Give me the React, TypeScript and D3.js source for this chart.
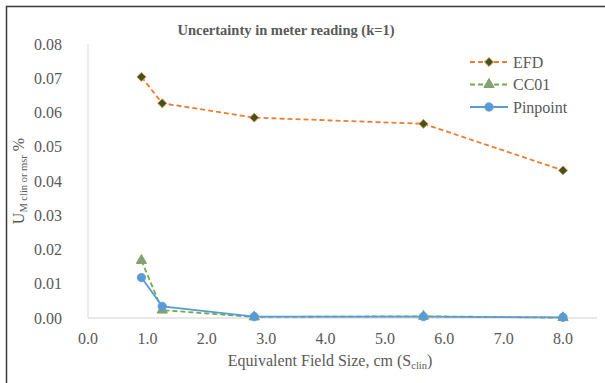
import * as d3 from "d3";
import { useRef, useEffect } from "react";

// field sizes (cm) and the three detector series
const fieldSizes = [0.9, 1.25, 2.8, 5.65, 8.0];
const efd = [0.0704, 0.0627, 0.0585, 0.0567, 0.0431];
const cc01 = [0.0168, 0.0023, 0.0003, 0.0005, 0.0001];
const pinpoint = [0.0118, 0.0034, 0.0004, 0.0004, 0.0002];
const xTicks = [0, 1, 2, 3, 4, 5, 6, 7, 8];
const yTicks = [0, 0.01, 0.02, 0.03, 0.04, 0.05, 0.06, 0.07, 0.08];

const series = [
  { name: "EFD", values: efd, stroke: "#ED7D31", dash: "5,3", marker: "diamond", fill: "#375623" },
  { name: "CC01", values: cc01, stroke: "#70AD47", dash: "5,3", marker: "triangle", fill: "#8C9A8C" },
  { name: "Pinpoint", values: pinpoint, stroke: "#5B9BD5", dash: null, marker: "circle", fill: "#5B9BD5" },
];

const font = "Liberation Serif, serif";
const textColor = "#595959";

export default function App() {
  const svgRef = useRef<SVGSVGElement>(null);

  useEffect(() => {
    const svg = d3.select(svgRef.current);
    svg.selectAll("*").remove();

    // plot area edges
    const left = 88, right = 563, top = 44, bottom = 318;

    const x = d3.scaleLinear().domain([0, 8]).range([left, right]);
    const y = d3.scaleLinear().domain([0, 0.08]).range([bottom, top]);

    // frame (left and top edges only)
    svg.append("path").attr("d", "M6.5,383 L6.5,6.5 L605,6.5")
      .attr("fill", "none").attr("stroke", "#3a3a3a").attr("stroke-width", 1.5);

    // axis lines
    svg.append("line").attr("x1", left).attr("x2", 597).attr("y1", bottom).attr("y2", bottom)
      .attr("stroke", "#d0d0d0").attr("stroke-width", 1);
    svg.append("line").attr("x1", left).attr("x2", left).attr("y1", top).attr("y2", bottom)
      .attr("stroke", "#d9d9d9").attr("stroke-width", 1);

    // y tick labels
    svg.append("g").selectAll("text").data(yTicks).join("text")
      .attr("x", 62).attr("y", d => y(d)).attr("dy", "0.35em")
      .attr("text-anchor", "end").attr("fill", textColor)
      .attr("font-family", font).attr("font-size", 16)
      .text(d => d3.format(".2f")(d));

    // x tick labels
    svg.append("g").selectAll("text").data(xTicks).join("text")
      .attr("x", d => x(d)).attr("y", 344)
      .attr("text-anchor", "middle").attr("fill", textColor)
      .attr("font-family", font).attr("font-size", 16)
      .text(d => d3.format(".1f")(d));

    // title
    svg.append("text").attr("x", 286).attr("y", 35).attr("text-anchor", "middle")
      .attr("fill", textColor).attr("font-family", font).attr("font-size", 14.5)
      .attr("font-weight", "bold").text("Uncertainty in meter reading (k=1)");

    // x axis title
    const xt = svg.append("text").attr("x", 330).attr("y", 366).attr("text-anchor", "middle")
      .attr("fill", textColor).attr("font-family", font).attr("font-size", 16);
    xt.append("tspan").text("Equivalent Field Size, cm (S");
    xt.append("tspan").attr("dy", 3).attr("font-size", 10.5).text("clin");
    xt.append("tspan").attr("dy", -3).text(")");

    // y axis title
    const yt = svg.append("text").attr("transform", `translate(24,${(top + bottom) / 2}) rotate(-90)`)
      .attr("text-anchor", "middle").attr("fill", textColor)
      .attr("font-family", font).attr("font-size", 16);
    yt.append("tspan").text("U");
    yt.append("tspan").attr("dy", 3).attr("font-size", 10.5).text("M clin or msr");
    yt.append("tspan").attr("dy", -3).text(" %");

    const drawMarker = (g: any, type: string, cx: number, cy: number, fill: string, stroke: string) => {
      if (type === "diamond") {
        g.append("path").attr("d", d3.symbol(d3.symbolDiamond2, 50)())
          .attr("transform", `translate(${cx},${cy})`)
          .attr("fill", fill).attr("stroke", stroke).attr("stroke-width", 1);
      } else if (type === "triangle") {
        g.append("path").attr("d", d3.symbol(d3.symbolTriangle, 45)())
          .attr("transform", `translate(${cx},${cy})`)
          .attr("fill", fill).attr("stroke", stroke).attr("stroke-width", 1);
      } else {
        g.append("circle").attr("cx", cx).attr("cy", cy).attr("r", 4.2)
          .attr("fill", fill).attr("stroke", stroke).attr("stroke-width", 0.8);
      }
    };

    const line = d3.line<number>().x((_, i) => x(fieldSizes[i])).y(d => y(d));

    series.forEach(s => {
      const g = svg.append("g");
      g.append("path").datum(s.values).attr("d", line).attr("fill", "none")
        .attr("stroke", s.stroke).attr("stroke-width", 1.8)
        .attr("stroke-dasharray", s.dash ?? null);
      s.values.forEach((v, i) => drawMarker(g, s.marker, x(fieldSizes[i]), y(v), s.fill, s.stroke));
    });

    // legend
    const lg = svg.append("g");
    series.forEach((s, i) => {
      const ly = 62 + i * 22.5;
      lg.append("line").attr("x1", 470).attr("x2", 508).attr("y1", ly).attr("y2", ly)
        .attr("stroke", s.stroke).attr("stroke-width", 1.8)
        .attr("stroke-dasharray", s.dash ?? null);
      drawMarker(lg, s.marker, 489, ly, s.fill, s.stroke);
      lg.append("text").attr("x", 513).attr("y", ly).attr("dy", "0.35em").attr("fill", textColor)
        .attr("font-family", font).attr("font-size", 16).text(s.name);
    });
  }, []);

  return (
    <svg ref={svgRef} width={605} height={383}
      style={{ position: "absolute", left: 0, top: 0, background: "#fff" }} />
  );
}
